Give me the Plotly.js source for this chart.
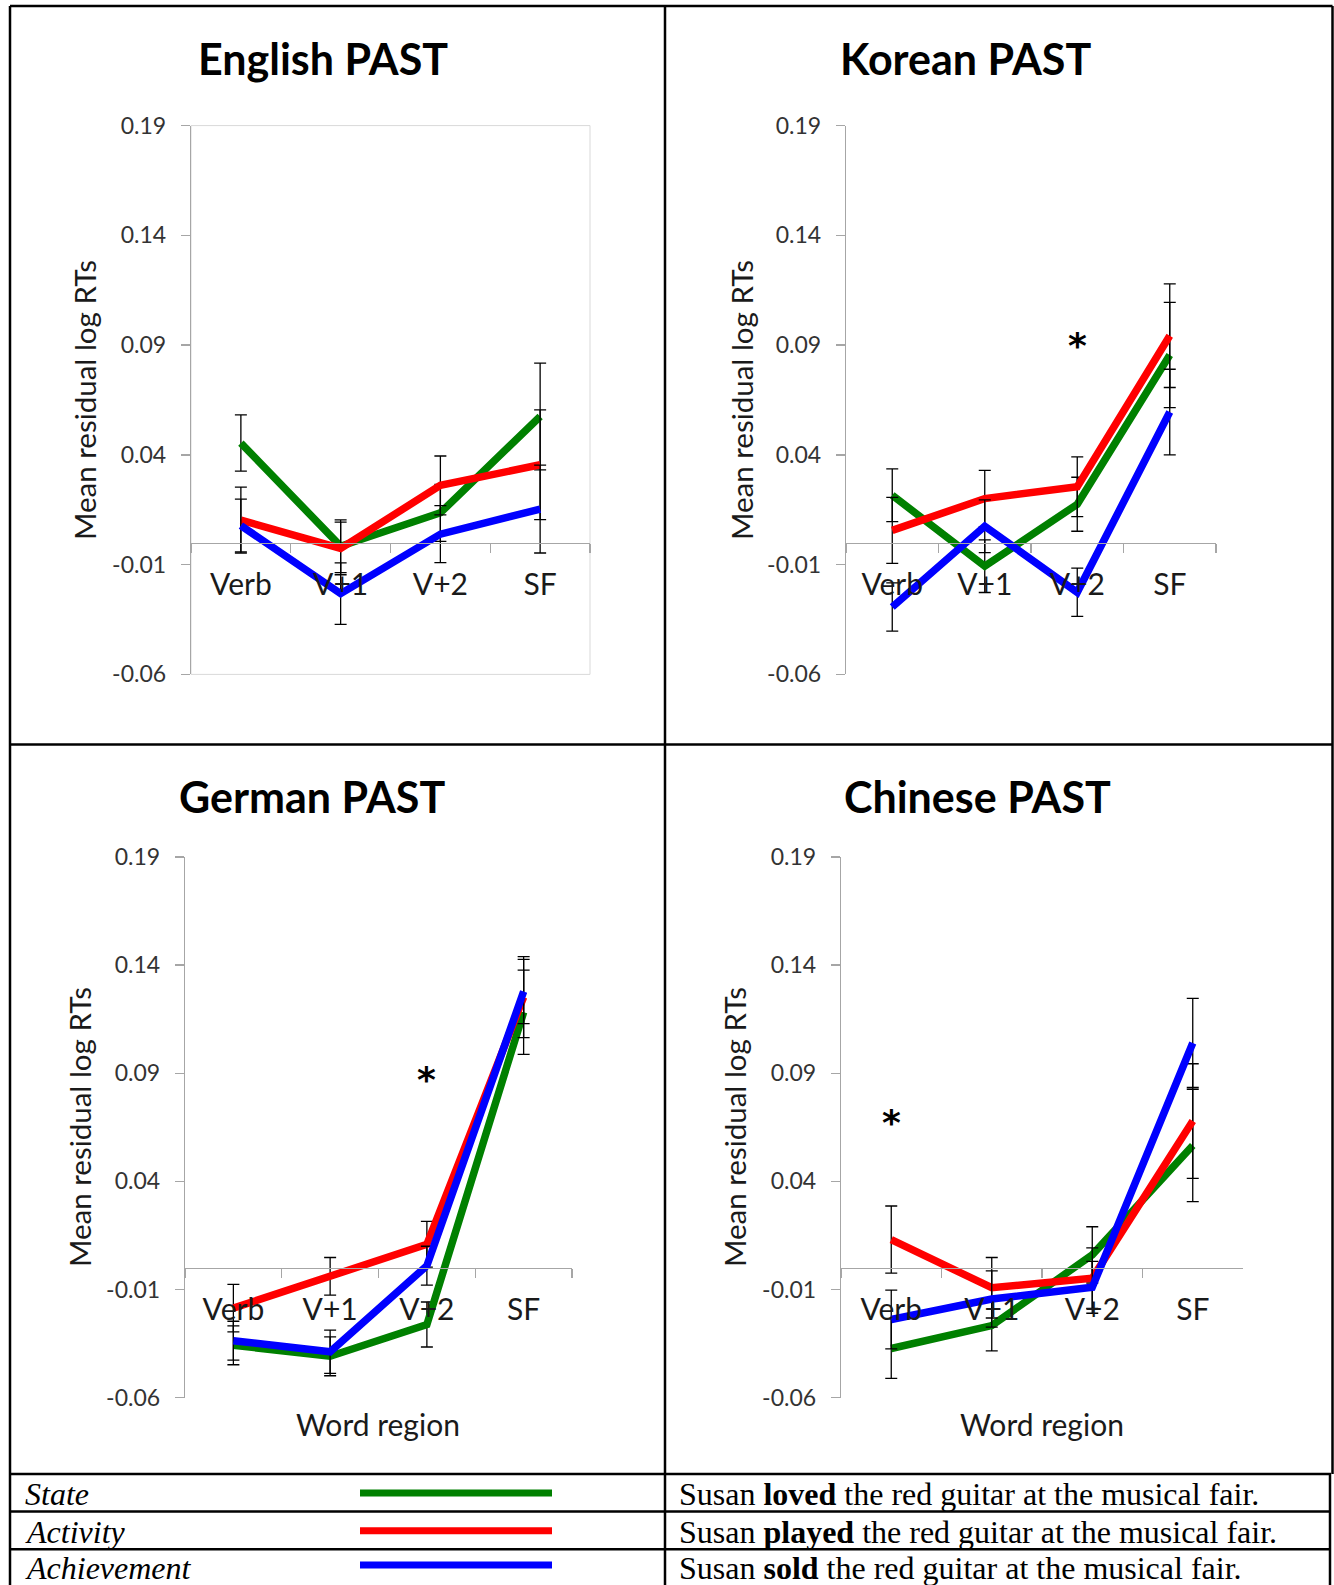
<!DOCTYPE html>
<html>
<head>
<meta charset="utf-8">
<script src="https://cdn.plot.ly/plotly-3.0.1.min.js"></script>
<style>
  html, body { margin: 0; padding: 0; background: #ffffff; }
  #chart { width: 1334px; height: 1585px; }
</style>
</head>
<body>
<div id="chart"></div>
<script>
// ---------------- DATA ----------------
const regions = ['Verb', 'V+1', 'V+2', 'SF'];
const seriesNames = ['State', 'Activity', 'Achievement'];
const seriesColors = ['#008000', '#ff0000', '#0000ff'];
const panelTitles = ['English PAST', 'Korean PAST', 'German PAST', 'Chinese PAST'];
const yAxisTitle = 'Mean residual log RTs';
const xAxisTitle = 'Word region';
const yTickVals = [-0.06, -0.01, 0.04, 0.09, 0.14, 0.19];
const yTickText = ['-0.06', '-0.01', '0.04', '0.09', '0.14', '0.19'];

// English PAST
const englishState = [0.0454, -0.0016, 0.0136, 0.0575];
const englishStateErr = [0.0128, 0.012, 0.013, 0.0243];
const englishActivity = [0.0103, -0.0026, 0.0261, 0.0355];
const englishActivityErr = [0.015, 0.012, 0.0134, 0.025];
const englishAchievement = [0.0078, -0.0232, 0.0039, 0.0153];
const englishAchievementErr = [0.012, 0.014, 0.013, 0.020];

// Korean PAST
const koreanState = [0.0216, -0.0107, 0.0175, 0.0855];
const koreanStateErr = [0.012, 0.012, 0.0123, 0.024];
const koreanActivity = [0.0056, 0.0201, 0.0255, 0.0943];
const koreanActivityErr = [0.015, 0.0128, 0.0136, 0.0236];
const koreanAchievement = [-0.0293, 0.0075, -0.0226, 0.0595];
const koreanAchievementErr = [0.011, 0.012, 0.011, 0.0195];

// German PAST
const germanState = [-0.0358, -0.0409, -0.0262, 0.1182];
const germanStateErr = [0.009, 0.009, 0.0104, 0.0195];
const germanActivity = [-0.0186, -0.0039, 0.0109, 0.1252];
const germanActivityErr = [0.011, 0.0087, 0.0106, 0.0187];
const germanAchievement = [-0.0337, -0.0388, 0.001, 0.1278];
const germanAchievementErr = [0.009, 0.010, 0.009, 0.0149];

// Chinese PAST
const chineseState = [-0.0373, -0.0267, 0.006, 0.0566];
const chineseStateErr = [0.0138, 0.0117, 0.013, 0.026];
const chineseActivity = [0.0131, -0.0092, -0.0048, 0.0679];
const chineseActivityErr = [0.0155, 0.014, 0.014, 0.0265];
const chineseAchievement = [-0.0239, -0.0144, -0.009, 0.104];
const chineseAchievementErr = [0.0136, 0.013, 0.012, 0.0206];

// Significance markers (*)
const sigPanelIndex = [1, 2, 3];
const sigRegions = ['V+2', 'V+2', 'Verb'];
const sigValues = [0.0921, 0.0895, 0.0694];

// Legend table
const sentenceVerbs = ['loved', 'played', 'sold'];
const sentencePrefix = 'Susan ';
const sentenceSuffix = ' the red guitar at the musical fair.';

// ---------------- LAYOUT HELPERS ----------------
const W = 1334, H = 1585;
const px = v => v / W;
const py = v => 1 - v / H;
const yRange = [-0.06, 0.19];

const panelData = [
  [[englishState, englishStateErr], [englishActivity, englishActivityErr], [englishAchievement, englishAchievementErr]],
  [[koreanState, koreanStateErr], [koreanActivity, koreanActivityErr], [koreanAchievement, koreanAchievementErr]],
  [[germanState, germanStateErr], [germanActivity, germanActivityErr], [germanAchievement, germanAchievementErr]],
  [[chineseState, chineseStateErr], [chineseActivity, chineseActivityErr], [chineseAchievement, chineseAchievementErr]]
];

const boxes = [
  {x0: 191, x1: 590, yTop: 125.6, yBot: 674.4, frame: true},
  {x0: 846, x1: 1216, yTop: 125.6, yBot: 674.4, frame: false},
  {x0: 185, x1: 572, yTop: 857, yBot: 1397.6, frame: false},
  {x0: 841, x1: 1243, yTop: 857, yBot: 1397.6, frame: false}
];
const titlePos = [[323, 59], [965, 59], [312, 796], [977, 796]];
const yTitlePos = [[84, 400], [741, 400], [79, 1127], [734, 1127]];
const xTitlePos = [[378, 1424], [1042, 1424]];

const axisGray = '#a6a6a6';
const font = 'Lato, "Open Sans", sans-serif';

const traces = [];
const layout = {
  width: W, height: H,
  margin: {l: 0, r: 0, t: 0, b: 0},
  paper_bgcolor: '#ffffff',
  plot_bgcolor: 'rgba(0,0,0,0)',
  showlegend: false,
  font: {family: font, color: '#222'},
  shapes: [],
  annotations: []
};

boxes.forEach((b, i) => {
  const n = i === 0 ? '' : String(i + 1);
  const xa = 'xaxis' + n, ya = 'yaxis' + n;
  const xr = 'x' + n, yr = 'y' + n;
  const yDom = [py(b.yBot), py(b.yTop)];
  const zeroPos = yDom[0] + (0 - yRange[0]) / (yRange[1] - yRange[0]) * (yDom[1] - yDom[0]);

  layout[xa] = {
    domain: [px(b.x0), px(b.x1)],
    anchor: 'free', position: zeroPos,
    type: 'category', categoryorder: 'array', categoryarray: regions,
    range: [-0.5, 3.5],
    showline: true, linecolor: axisGray, linewidth: 1.3,
    ticks: 'outside', tickson: 'boundaries', ticklen: 9, tickcolor: axisGray, tickwidth: 1.3,
    tickfont: {family: font, size: 30, color: '#1a1a1a'},
    ticklabelstandoff: 15,
    showgrid: false, zeroline: false, fixedrange: true
  };
  layout[ya] = {
    domain: yDom,
    anchor: xr,
    range: yRange,
    tickmode: 'array', tickvals: yTickVals, ticktext: yTickText,
    showline: true, linecolor: axisGray, linewidth: 1.3,
    ticks: 'outside', ticklen: 9, tickcolor: axisGray, tickwidth: 1.3,
    tickfont: {family: font, size: 23, color: '#333'},
    ticklabelstandoff: 10,
    showgrid: false, zeroline: false, fixedrange: true
  };

  panelData[i].forEach((s, k) => {
    traces.push({
      type: 'scatter', mode: 'lines',
      x: regions, y: s[0],
      xaxis: xr, yaxis: yr,
      name: seriesNames[k],
      line: {color: seriesColors[k], width: 7.5},
      error_y: {type: 'data', array: s[1], visible: true, color: '#000', thickness: 1.3, width: 6},
      hoverinfo: 'skip'
    });
  });

  if (b.frame) {
    layout.shapes.push({type: 'rect', xref: xr + ' domain', yref: yr + ' domain',
      x0: 0, x1: 1, y0: 0, y1: 1, line: {color: '#d9d9d9', width: 1}, layer: 'below'});
  }

  layout.annotations.push({
    xref: 'paper', yref: 'paper', x: px(titlePos[i][0]), y: py(titlePos[i][1]),
    xanchor: 'center', yanchor: 'middle', showarrow: false,
    text: '<b>' + panelTitles[i] + '</b>',
    font: {family: font, size: 43, color: '#000'}
  });
  layout.annotations.push({
    xref: 'paper', yref: 'paper', x: px(yTitlePos[i][0]), y: py(yTitlePos[i][1]),
    xanchor: 'center', yanchor: 'middle', showarrow: false, textangle: -90,
    text: yAxisTitle,
    font: {family: font, size: 29.5, color: '#1a1a1a'}
  });
});

xTitlePos.forEach(p => {
  layout.annotations.push({
    xref: 'paper', yref: 'paper', x: px(p[0]), y: py(p[1]),
    xanchor: 'center', yanchor: 'middle', showarrow: false,
    text: xAxisTitle, font: {family: font, size: 30, color: '#1a1a1a'}
  });
});

sigPanelIndex.forEach((pi, j) => {
  const n = pi === 0 ? '' : String(pi + 1);
  layout.annotations.push({
    xref: 'x' + n, yref: 'y' + n, x: sigRegions[j], y: sigValues[j],
    xanchor: 'center', yanchor: 'middle', showarrow: false, yshift: -5,
    text: '<b>*</b>', font: {family: '"DejaVu Sans", sans-serif', size: 36, color: '#000'}
  });
});

// ---------------- TABLE / BORDERS ----------------
const bw = 2.5;
const lineShape = (x0, y0, x1, y1) => ({type: 'line', xref: 'paper', yref: 'paper',
  x0: px(x0), y0: py(y0), x1: px(x1), y1: py(y1), line: {color: '#000', width: bw}});
layout.shapes.push(lineShape(10, 6, 1332.5, 6));
layout.shapes.push(lineShape(10, 6, 10, 1590));
layout.shapes.push(lineShape(1332.5, 6, 1332.5, 1474));
layout.shapes.push(lineShape(1330, 1474, 1330, 1590));
layout.shapes.push(lineShape(665, 6, 665, 1590));
layout.shapes.push(lineShape(10, 744.5, 1332.5, 744.5));
const rowLines = [1474, 1511.5, 1549.3];
rowLines.forEach(y => layout.shapes.push(lineShape(10, y, 1331, y)));

const rowCenters = [1494, 1532, 1568];
const keyY = [1493, 1530.8, 1565];
seriesNames.forEach((nm, k) => {
  layout.annotations.push({
    xref: 'paper', yref: 'paper', x: px(23), y: py(rowCenters[k]),
    xanchor: 'left', yanchor: 'middle', showarrow: false,
    text: '<i>' + nm + '</i>',
    font: {family: '"Liberation Serif", "Times New Roman", serif', size: 32, color: '#000'}
  });
  layout.annotations.push({
    xref: 'paper', yref: 'paper', x: px(677), y: py(rowCenters[k]),
    xanchor: 'left', yanchor: 'middle', showarrow: false,
    text: sentencePrefix + '<b>' + sentenceVerbs[k] + '</b>' + sentenceSuffix,
    font: {family: '"Liberation Serif", "Times New Roman", serif', size: 32, color: '#000'}
  });
  layout.shapes.push({type: 'line', xref: 'paper', yref: 'paper',
    x0: px(360), x1: px(552), y0: py(keyY[k]), y1: py(keyY[k]),
    line: {color: seriesColors[k], width: 7}});
});

Plotly.newPlot('chart', traces, layout, {displayModeBar: false, staticPlot: true});
</script>
</body>
</html>
